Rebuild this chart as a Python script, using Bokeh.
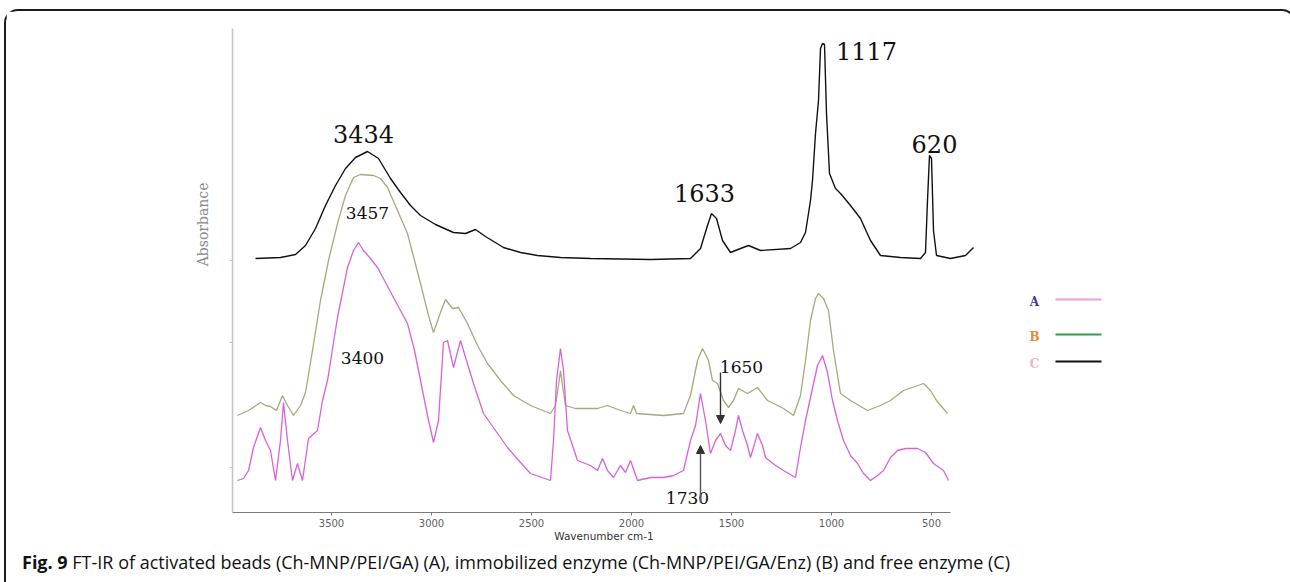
from bokeh.plotting import figure
from bokeh.models import Range1d, FixedTicker, Label, Arrow, NormalHead, Title, Div
from bokeh.layouts import column, row
from bokeh.embed import file_html
from bokeh.resources import INLINE

# ---------------- data (wavenumber cm-1, absorbance in arbitrary units) -------------
c_wn = [3880, 3755, 3680, 3630, 3580, 3530, 3480, 3430, 3380, 3320, 3265, 3205, 3155, 3105,
        3055, 2980, 2890, 2830, 2780, 2730, 2640, 2555, 2470, 2355, 2205, 1905, 1705, 1655,
        1620, 1600, 1575, 1545, 1505, 1455, 1415, 1355, 1205, 1155, 1130, 1105, 1095, 1080,
        1065, 1055, 1045, 1035, 1025, 1010, 980, 955, 905, 855, 805, 755, 655, 555, 530, 520,
        510, 500, 490, 475, 405, 330, 290]
c_abs = [254, 255, 258, 267, 284, 307, 327, 344, 355, 361, 354, 334, 320, 307,
         297, 288, 280, 279, 283, 276, 265, 260, 257, 255, 254, 253, 254, 264,
         287, 299, 294, 272, 260, 264, 267, 262, 264, 270, 280, 312, 332, 379,
         412, 464, 469, 468, 399, 339, 324, 319, 307, 294, 272, 257, 255, 254, 260, 312,
         357, 354, 282, 257, 254, 257, 265]

b_wn = [3970, 3915, 3855, 3830, 3805, 3775, 3745, 3720, 3690, 3655, 3630, 3595, 3555, 3515,
        3470, 3430, 3390, 3355, 3290, 3255, 3220, 3170, 3120, 3055, 3015, 2990, 2955, 2930,
        2895, 2865, 2820, 2770, 2720, 2655, 2590, 2505, 2405, 2380, 2365, 2355, 2345, 2330,
        2280, 2170, 2120, 2055, 2005, 1990, 1975, 1840, 1740, 1705, 1670, 1645, 1615, 1595,
        1570, 1540, 1515, 1490, 1465, 1420, 1370, 1320, 1240, 1190, 1155, 1130, 1105, 1080,
        1065, 1040, 1015, 990, 955, 905, 820, 755, 705, 640, 540, 505, 475, 420]
b_abs = [97, 102, 110, 107, 106, 102, 117, 107, 97, 107, 120, 162, 212, 252,
         289, 317, 335, 338, 337, 334, 325, 302, 279, 229, 197, 180, 200, 213,
         204, 205, 189, 167, 149, 132, 117, 107, 99, 107, 127, 142, 127, 107,
         104, 104, 107, 102, 99, 107, 99, 97, 99, 117, 152, 164, 152, 132,
         129, 112, 105, 112, 124, 119, 125, 112, 104, 97, 117, 152, 192, 214,
         219, 214, 202, 162, 119, 112, 102, 107, 112, 122, 129, 122, 112, 99]

a_wn = [3970, 3940, 3915, 3890, 3855, 3830, 3805, 3780, 3755, 3740, 3720, 3695, 3670, 3645,
        3615, 3570, 3545, 3520, 3470, 3420, 3390, 3365, 3340, 3305, 3270, 3230, 3190, 3155,
        3120, 3085, 3055, 3020, 2990, 2965, 2940, 2920, 2890, 2855, 2825, 2790, 2740, 2680,
        2620, 2555, 2505, 2405, 2390, 2375, 2355, 2340, 2320, 2270, 2205, 2170, 2145, 2120,
        2090, 2055, 2030, 2005, 1970, 1905, 1840, 1790, 1740, 1705, 1680, 1655, 1630, 1605,
        1580, 1555, 1530, 1505, 1480, 1465, 1445, 1420, 1405, 1370, 1345, 1330, 1280, 1240,
        1180, 1155, 1130, 1105, 1070, 1045, 1020, 995, 970, 940, 905, 870, 840, 805, 770,
        740, 705, 670, 630, 570, 530, 490, 440, 415]
a_abs = [32, 34, 42, 65, 85, 72, 62, 32, 72, 110, 72, 32, 49, 32,
         74, 82, 112, 132, 195, 245, 262, 270, 262, 254, 245, 230, 215, 202,
         189, 162, 132, 97, 70, 92, 170, 172, 145, 172, 152, 129, 99, 82,
         65, 50, 39, 32, 72, 132, 164, 142, 82, 52, 47, 42, 54, 42,
         35, 47, 40, 52, 32, 35, 35, 37, 42, 72, 87, 119, 92, 59,
         72, 79, 67, 62, 82, 97, 82, 67, 55, 79, 67, 55, 47, 42,
         35, 65, 92, 115, 147, 157, 140, 112, 92, 72, 57, 49, 39, 32, 37,
         42, 55, 62, 64, 64, 60, 49, 42, 32]

x_ticks = [3500, 3000, 2500, 2000, 1500, 1000, 500]
peak_labels = ["3434", "3457", "3400", "1633", "1117", "620", "1650", "1730"]
legend_letters = ["A", "B", "C"]
caption_bold = "Fig. 9"
caption_text = ("FT-IR of activated beads (Ch-MNP/PEI/GA) (A), immobilized enzyme "
                "(Ch-MNP/PEI/GA/Enz) (B) and free enzyme (C)")

# ---------------- layout helpers (page pixel -> data) ----------------
OX, OY = 6, 11            # page offset of the canvas (border + margin)
TOTAL_W = 1278
FL, FR, FT, FB = 232, 975, 28, 512   # frame edges in page px
CANVAS_BOTTOM = 548
H = CANVAS_BOTTOM - OY
W1 = FR - OX
W2 = TOTAL_W - W1
SERIF = "DejaVu Serif"


def wv(px):
    return 3500 - (px - 331) * 5


def ab(py):
    return 512 - py


p = figure(width=W1, height=H, output_backend="svg", toolbar_location=None,
           x_range=Range1d(wv(FL), wv(FR)), y_range=Range1d(ab(FB), ab(FT)),
           min_border_left=FL - OX, min_border_right=0,
           min_border_top=FT - OY, min_border_bottom=H - (FB - OY))
p.outline_line_color = None
p.grid.visible = False
p.background_fill_color = "white"
p.border_fill_color = "white"

# x axis
xa = p.xaxis[0]
xa.ticker = FixedTicker(ticks=x_ticks)
xa.bounds = (wv(FL), wv(950))
xa.axis_line_color = "#7a7a7a"
xa.axis_line_width = 1.2
xa.major_tick_line_color = "#7a7a7a"
xa.major_tick_in = 0
xa.major_tick_out = 3
xa.minor_tick_line_color = None
xa.major_label_text_font = "DejaVu Sans"
xa.major_label_text_font_size = "10px"
xa.major_label_text_color = "#606060"
xa.major_label_standoff = 3
xa.axis_label = "Wavenumber cm-1"
xa.axis_label_text_font = "DejaVu Sans"
xa.axis_label_text_font_size = "10.5px"
xa.axis_label_text_font_style = "normal"
xa.axis_label_text_color = "#333333"
xa.axis_label_standoff = 0

# y axis
ya = p.yaxis[0]
ya.ticker = FixedTicker(ticks=[ab(467), ab(342), ab(260)])
ya.major_label_text_font_size = "0px"
ya.major_label_text_alpha = 0
ya.major_label_standoff = 0
ya.axis_line_color = "#c4c4c4"
ya.axis_line_width = 1.5
ya.major_tick_line_color = "#c4c4c4"
ya.major_tick_in = 0
ya.major_tick_out = 3
ya.minor_tick_line_color = None

p.add_layout(Title(text="Absorbance", align="right", offset=182 - FT,
                   vertical_align="bottom", standoff=38,
                   text_font=SERIF, text_font_size="14px",
                   text_font_style="normal", text_color="#8a8a8a"), "left")

# spectra
p.line(b_wn, b_abs, line_color="#a9a87a", line_width=1.3)
p.line(a_wn, a_abs, line_color="#d862d8", line_width=1.3)
p.line(c_wn, c_abs, line_color="#111111", line_width=1.4)

# peak annotations
big = "24px"
small = "17px"
pos = [(363, 133, big), (367, 212, small), (362, 357, small), (704, 192, big),
       (866, 50, big), (934, 143, big), (741, 366, small), (687, 497, small)]
for txt, (px, py, fs) in zip(peak_labels, pos):
    p.add_layout(Label(x=wv(px), y=ab(py), text=txt, text_align="center",
                       text_baseline="middle", text_font=SERIF,
                       text_font_size=fs, text_color="#111111"))

# arrows
p.add_layout(Arrow(x_start=wv(720), y_start=ab(372), x_end=wv(720), y_end=ab(423),
                   line_color="#333333", line_width=1.4,
                   end=NormalHead(size=8, fill_color="#333333", line_color="#333333")))
p.add_layout(Arrow(x_start=wv(700), y_start=ab(502), x_end=wv(700), y_end=ab(445),
                   line_color="#555555", line_width=1.4,
                   end=NormalHead(size=8, fill_color="#333333", line_color="#333333")))

# legend panel (page-pixel coordinates, y downwards; its frame aligns with the main frame)
lg = figure(width=W2, height=H, output_backend="svg", toolbar_location=None,
            x_range=Range1d(FR, FR + W2), y_range=Range1d(FB, FT),
            min_border=0, x_axis_type=None, y_axis_type=None)
lg.outline_line_color = None
lg.grid.visible = False
leg_letter_colors = ["#3b3f8c", "#e88a36", "#f0b4cc"]
leg_line_colors = ["#e8a0e0", "#2e9e4e", "#111111"]
leg_rows = [299, 334, 361]
for letter, lc, sc, py in zip(legend_letters, leg_letter_colors, leg_line_colors, leg_rows):
    lg.add_layout(Label(x=1034, y=py + 2, text=letter, text_align="center",
                        text_baseline="middle", text_font=SERIF,
                        text_font_style="bold", text_font_size="12px", text_color=lc))
    lg.add_layout(Arrow(x_start=1055, y_start=py, x_end=1101, y_end=py,
                        start=None, end=None, line_color=sc, line_width=2))

cap = Div(text=f"<b>{caption_bold}</b> {caption_text}", width=TOTAL_W, height=40,
          styles={"font-family": "Open Sans", "font-size": "18px", "color": "#111111",
                  "line-height": "19px", "padding-left": "11px", "padding-top": "0px"})

lay = column(row(p, lg, spacing=0), cap, spacing=0,
             styles={"border": "2px solid #1c1c1c", "border-radius": "14px",
                     "margin-left": "4px", "margin-top": "9px", "background": "white"})

open("out.html", "w").write(file_html(lay, INLINE))
